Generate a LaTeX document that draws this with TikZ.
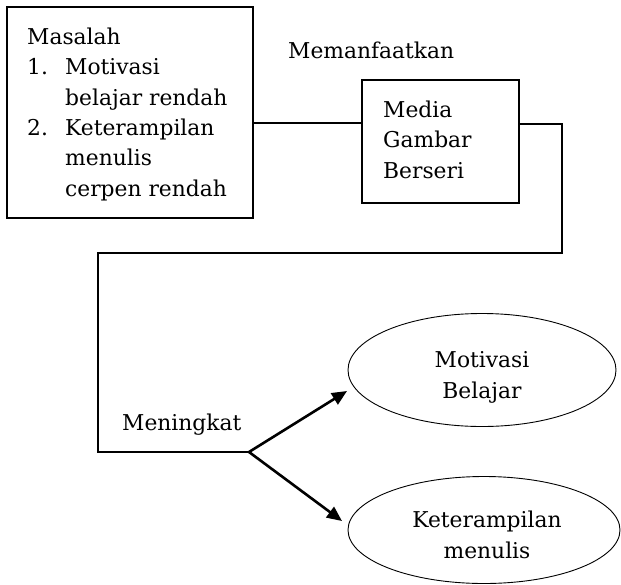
\documentclass[tikz,border=0pt]{standalone}
\usepackage{fontspec}
\setmainfont{DejaVu Serif}
\usetikzlibrary{arrows.meta,shapes.geometric}
\tikzset{
  lbl/.style={font=\fontsize{21.8}{30.3}\selectfont, inner sep=0pt, anchor=base west, align=left},
  clbl/.style={font=\fontsize{21.8}{31}\selectfont, inner sep=0pt, anchor=base, align=center},
  frame/.style={draw, line width=1.2pt, inner sep=0pt},
  oval/.style={draw, ellipse, line width=0.9pt, inner sep=0pt},
  wire/.style={line width=1.1pt},
  push/.style={line width=2.6pt, -{Triangle[length=15pt,width=13pt]}}
}
\begin{document}
\begin{tikzpicture}[x=1pt,y=-1pt]
  \useasboundingbox (0,0) rectangle (621,584);

  % problem box (text placed by the baseline of its last line)
  \node[frame, minimum width=246pt, minimum height=211pt] (b1) at (130,112.5) {};
  \node[lbl] (b1t) at (27,196) {Masalah\\
    \makebox[38pt][l]{1.}Motivasi\\
    \hspace*{38pt}belajar rendah\\
    \makebox[38pt][l]{2.}Keterampilan\\
    \hspace*{38pt}menulis\\
    \hspace*{38pt}cerpen rendah};

  % media box
  \node[frame, minimum width=157pt, minimum height=123pt] (b2) at (440.5,141.5) {};
  \node[lbl] (b2t) at (383,178) {Media\\Gambar\\Berseri};

  % edge labels
  \node[lbl] (use) at (288,58) {Memanfaatkan};
  \node[lbl] (up) at (122,430) {Meningkat};

  % outcome ellipses
  \node[oval, minimum width=268pt, minimum height=113pt] (e1) at (482,370) {};
  \node[clbl] (e1t) at (482,398) {Motivasi\\Belajar};
  \node[oval, minimum width=272pt, minimum height=107pt] (e2) at (484,530) {};
  \node[clbl] (e2t) at (487,558) {Keterampilan\\menulis};

  % connectors
  \coordinate (c1) at (562,124);
  \coordinate (c2) at (562,253);
  \coordinate (c3) at (98,253);
  \coordinate (c4) at (98,452);
  \coordinate (apex) at (249,452);
  \coordinate (t1) at (347,391);
  \coordinate (t2) at (342,521);

  \draw[wire] (b1.east |- 0,123) -- (b2.west |- 0,123);
  \draw[wire] (b2.east |- c1) -- (c1) -- (c2) -- (c3) -- (c4) -- (apex);
  \draw[push] (apex) -- (t1);
  \draw[push] (apex) -- (t2);
\end{tikzpicture}
\end{document}
